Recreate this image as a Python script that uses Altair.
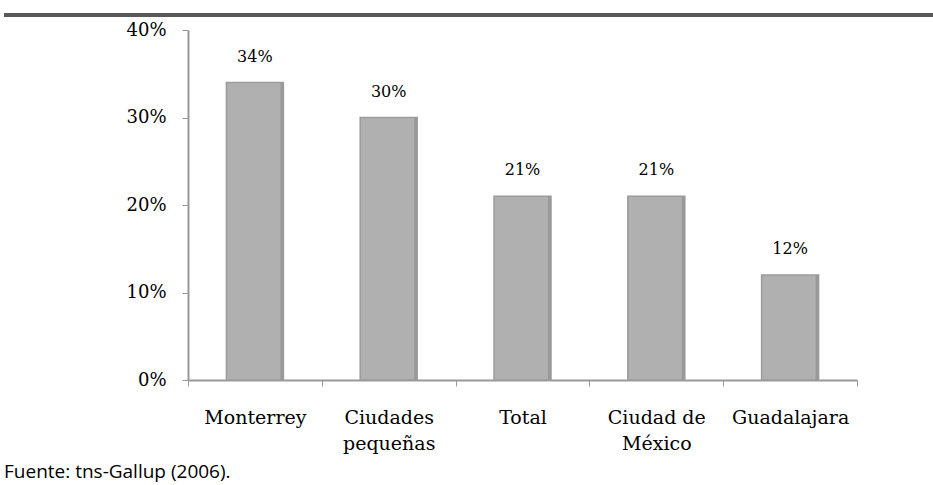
import altair as alt
import pandas as pd

categories = ["Monterrey", "Ciudades pequeñas", "Total", "Ciudad de México", "Guadalajara"]
values = [0.34, 0.30, 0.21, 0.21, 0.12]
labels = ["34%", "30%", "21%", "21%", "12%"]
y_ticks = [0, 0.1, 0.2, 0.3, 0.4]
source_text = "Fuente: tns-Gallup (2006)."

df = pd.DataFrame({"cat": categories, "val": values, "lab": labels})

SERIF = "DejaVu Serif"

x_enc = alt.X(
    "cat:N",
    sort=categories,
    scale=alt.Scale(paddingInner=0, paddingOuter=0),
    axis=alt.Axis(
        title=None,
        labelAngle=0,
        labelFont=SERIF,
        labelFontSize=19,
        labelColor="#000000",
        labelPadding=22,
        labelLineHeight=26,
        labelBaseline="top",
        tickBand="extent",
        tickSize=6,
        tickColor="#999999",
        domainColor="#999999",
        domainWidth=2,
        labelExpr="datum.label == 'Ciudades pequeñas' ? ['Ciudades', 'pequeñas'] : datum.label == 'Ciudad de México' ? ['Ciudad de', 'México'] : datum.label",
    ),
)

y_enc = alt.Y(
    "val:Q",
    scale=alt.Scale(domain=[0, 0.4], nice=False),
    axis=alt.Axis(
        title=None,
        values=y_ticks,
        format=".0%",
        grid=False,
        labelFont=SERIF,
        labelFontSize=18,
        labelColor="#000000",
        labelPadding=16,
        tickSize=6,
        tickColor="#999999",
        domainColor="#999999",
        domainWidth=2,
    ),
)

bars = alt.Chart(df).mark_bar(
    size=57, color="#b0b0b0", stroke="#9c9c9c", strokeWidth=1.5
).encode(x=x_enc, y=y_enc)

shade = alt.Chart(df).mark_bar(
    size=3, xOffset=27, color="#999999"
).encode(x=alt.X("cat:N", sort=categories), y="val:Q")

text = alt.Chart(df).mark_text(
    font=SERIF, fontSize=16, color="#000000", dy=-26, baseline="middle"
).encode(
    x=alt.X("cat:N", sort=categories),
    y="val:Q",
    text="lab:N",
)

top_rule = alt.Chart(df).mark_rule(color="#595959", strokeWidth=4).encode(
    x=alt.value(-184), x2=alt.value(745), y=alt.value(-15)
)

footer = alt.Chart(pd.DataFrame({"t": [source_text]})).mark_text(
    font="Open Sans", fontSize=19, color="#000000", align="left", baseline="alphabetic"
).encode(
    x=alt.value(-184), y=alt.value(448), text="t:N"
)

chart = alt.layer(bars, shade, text, top_rule, footer).properties(
    width=669,
    height=350,
    autosize=alt.AutoSizeParams(type="none"),
    padding={"left": 188, "top": 30, "right": 76, "bottom": 105},
).configure_view(stroke=None)

chart.save("out.html", embed_options={"renderer": "svg", "actions": False})
